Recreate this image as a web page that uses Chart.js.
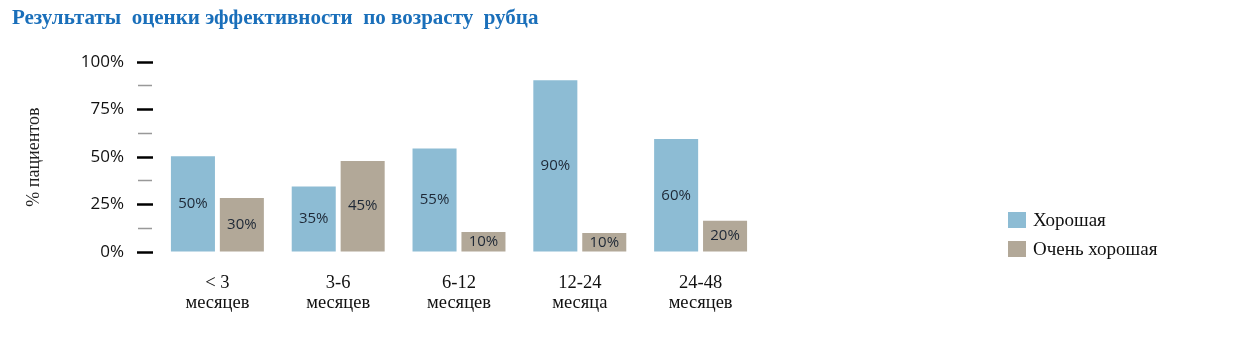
<!DOCTYPE html>
<html lang="ru">
<head>
<meta charset="utf-8">
<title>Результаты оценки эффективности по возрасту рубца</title>
<script src="https://cdn.jsdelivr.net/npm/chart.js@4.4.1/dist/chart.umd.min.js"></script>
<style>
  body { margin: 0; background: #fff; }
  .wrap { position: relative; width: 1238px; height: 337px; }
  .legend { position: absolute; left: 1008px; top: 205px; font-family: 'Liberation Serif', serif; font-size: 19px; color: #111; }
  .legend__item { display: flex; align-items: center; height: 29px; }
  .legend__box { width: 18px; height: 16px; margin-right: 7px; }
</style>
</head>
<body>
<div class="wrap">
  <canvas id="myChart"></canvas>
  <div class="legend" id="legend"></div>
</div>
<script>
const ctx = document.getElementById('myChart').getContext('2d');

const labels = [
  ['< 3', 'месяцев'],
  ['3-6', 'месяцев'],
  ['6-12', 'месяцев'],
  ['12-24', 'месяца'],
  ['24-48', 'месяцев']
];
// bar heights as drawn in the picture, and the numbers printed on them
const goodValues = [50.5, 34.5, 54.5, 90.5, 59.5];
const veryGoodValues = [28.5, 48, 10.5, 10, 16.5];
const goodText = ['50%', '35%', '55%', '90%', '60%'];
const veryGoodText = ['30%', '45%', '10%', '10%', '20%'];
const yTicks = [0, 25, 50, 75, 100];

const barText = {
  id: 'barText',
  afterDatasetsDraw(chart) {
    const c = chart.ctx;
    c.save();
    c.font = '15px "Open Sans", sans-serif';
    c.fillStyle = '#1e2836';
    c.textAlign = 'center';
    c.textBaseline = 'middle';
    chart.data.datasets.forEach((ds, i) => {
      chart.getDatasetMeta(i).data.forEach((bar, j) => {
        const mid = (bar.y + bar.base) / 2;
        c.fillText(ds.texts[j], bar.x, mid);
      });
    });
    c.restore();
  }
};

const data = {
  labels: labels,
  datasets: [
    {
      label: 'Хорошая',
      data: goodValues,
      texts: goodText,
      backgroundColor: '#8dbcd4'
    },
    {
      label: 'Очень хорошая',
      data: veryGoodValues,
      texts: veryGoodText,
      backgroundColor: '#b2a898'
    }
  ]
};

const config = {
  type: 'bar',
  data: data,
  options: {
    responsive: true,
    maintainAspectRatio: false,
    animation: false,
    barPercentage: 0.9,
    categoryPercentage: 0.81,
    layout: { padding: { left: 12, right: 477, top: 0, bottom: 0 } },
    plugins: {
      legend: { display: false },
      tooltip: { enabled: false },
      title: {
        display: true,
        text: 'Результаты  оценки эффективности  по возрасту  рубца',
        align: 'start',
        color: '#1a6fba',
        font: { family: '"Liberation Serif", serif', size: 21, weight: 'bold' },
        padding: { top: 6, bottom: 31 }
      }
    },
    scales: {
      x: {
        grid: { display: false },
        border: { display: false },
        ticks: {
          color: '#111',
          padding: 13,
          maxRotation: 0,
          font: { family: '"Liberation Serif", serif', size: 18.5, lineHeight: 1.08 }
        },
        afterFit: (scale) => { scale.height = 85; }
      },
      y: {
        min: 0,
        max: 100,
        border: { display: false },
        grid: {
          drawOnChartArea: false,
          tickLength: 20,
          tickColor: (c) => yTicks.includes(c.tick.value) ? '#000' : '#999',
          tickWidth: (c) => yTicks.includes(c.tick.value) ? 2.5 : 1.5,
          tickBorderDash: (c) => yTicks.includes(c.tick.value) ? [16, 30] : [0, 1, 14, 30]
        },
        ticks: {
          stepSize: 12.5,
          autoSkip: false,
          maxTicksLimit: 20,
          padding: 13,
          color: '#111',
          font: { family: '"Open Sans", sans-serif', size: 17, lineHeight: 1 },
          callback: (v) => yTicks.includes(v) ? v + '%' : ''
        },
        title: {
          display: true,
          text: '% пациентов',
          color: '#222',
          font: { family: '"Liberation Serif", serif', size: 18 },
          padding: { top: 11, bottom: 0 }
        },
        afterFit: (scale) => { scale.width = 145; }
      }
    }
  },
  plugins: [barText]
};

const myChart = new Chart(ctx, config);

const legend = document.getElementById('legend');
myChart.data.datasets.forEach((ds) => {
  const item = document.createElement('div');
  item.className = 'legend__item';
  const box = document.createElement('span');
  box.className = 'legend__box';
  box.style.background = ds.backgroundColor;
  const text = document.createElement('span');
  text.textContent = ds.label;
  item.appendChild(box);
  item.appendChild(text);
  legend.appendChild(item);
});
</script>
</body>
</html>
